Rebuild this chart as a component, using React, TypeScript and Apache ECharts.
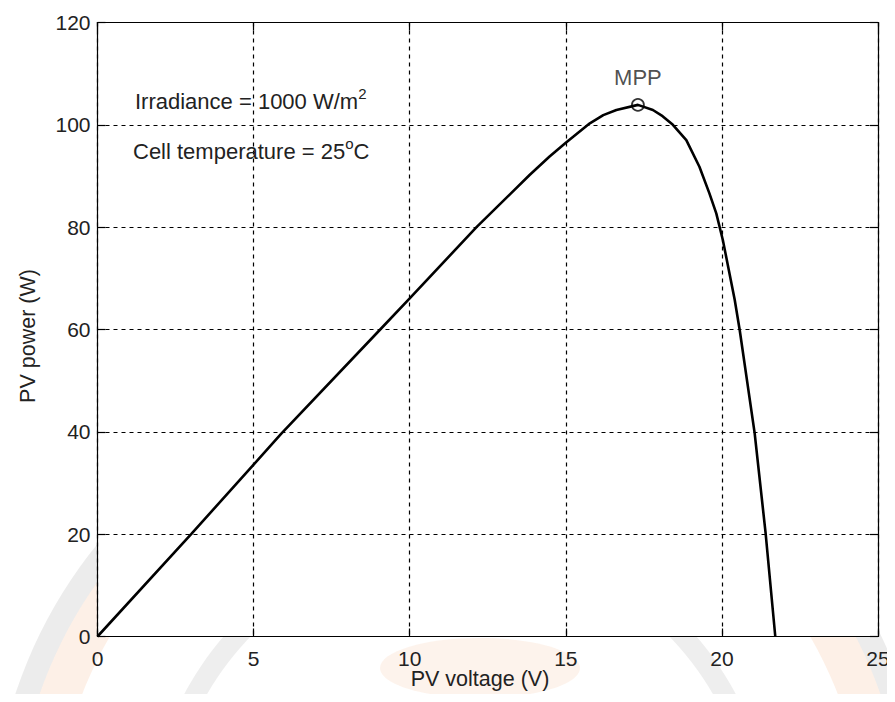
import React, { useEffect, useRef } from "react";
import * as echarts from "echarts";

// PV voltage (V) and PV power (W)
const voltage = [0, 3.0, 5.0, 5.88, 9.04, 10.0, 12.14, 13.84, 14.48, 15.0, 15.77, 16.2, 16.62, 17.31, 17.79, 18.1, 18.43, 18.86, 19.28, 19.6, 19.82, 20.03, 20.41, 20.57, 21.05, 21.4, 21.71];
const power = [0, 20, 33.6, 39.6, 59.9, 66.1, 80, 90.2, 93.8, 96.5, 100.3, 101.9, 102.9, 103.9, 102.9, 101.7, 100, 97.0, 91.8, 86.6, 82.7, 77.5, 65.8, 59.9, 39.7, 20.2, 0];

const mppVoltage = [17.31];
const mppPower = [103.9];

const xTicks = [0, 5, 10, 15, 20, 25];
const yTicks = [0, 20, 40, 60, 80, 100, 120];

const FONT = "'Liberation Sans', Arial, Helvetica, sans-serif";
const TXT = "#222";

export default function App() {
  const ref = useRef<HTMLDivElement>(null);

  useEffect(() => {
    if (!ref.current) return;
    const chart = echarts.init(ref.current, undefined, { renderer: "svg" });

    const curve = voltage.map((v, i) => [v, power[i]]);
    const mpp = mppVoltage.map((v, i) => [v, mppPower[i]]);

    const axisCommon = {
      type: "value" as const,
      z: 3,
      axisLine: { show: true, onZero: false, lineStyle: { color: "#000", width: 1.2 } },
      axisTick: { show: true, inside: true, length: 8, lineStyle: { color: "#000", width: 1.2 } },
    };
    const gridLine = { show: true, lineStyle: { color: "#000", width: 1.2, type: [4, 4] } };

    const option: any = {
      animation: false,
      backgroundColor: "#fff",
      textStyle: { fontFamily: FONT },
      grid: {
        left: 97.5,
        right: 17,
        top: 22.5,
        bottom: 65.5,
        show: true,
        backgroundColor: "#fff",
        borderWidth: 0,
        z: 0,
      },
      xAxis: [
        {
          ...axisCommon,
          position: "bottom",
          min: xTicks[0],
          max: xTicks[xTicks.length - 1],
          interval: 5,
          axisLabel: { color: TXT, fontSize: 21, margin: 11, fontFamily: FONT },
          splitLine: gridLine,
        },
        {
          ...axisCommon,
          position: "top",
          min: xTicks[0],
          max: xTicks[xTicks.length - 1],
          interval: 5,
          axisLabel: { show: false },
          splitLine: { show: false },
        },
      ],
      yAxis: [
        {
          ...axisCommon,
          position: "left",
          min: yTicks[0],
          max: yTicks[yTicks.length - 1],
          interval: 20,
          axisLabel: { color: TXT, fontSize: 21, margin: 7, fontFamily: FONT },
          splitLine: gridLine,
        },
        {
          ...axisCommon,
          position: "right",
          min: yTicks[0],
          max: yTicks[yTicks.length - 1],
          interval: 20,
          axisLabel: { show: false },
          splitLine: { show: false },
        },
      ],
      series: [
        {
          type: "line",
          data: curve,
          showSymbol: false,
          symbol: "none",
          smooth: false,
          lineStyle: { color: "#000", width: 2.6 },
          z: 5,
        },
        {
          type: "scatter",
          data: mpp,
          symbol: "circle",
          symbolSize: 12,
          itemStyle: { color: "rgba(255,255,255,0)", borderColor: "#000", borderWidth: 1.8 },
          label: {
            show: true,
            position: "top",
            distance: 9,
            formatter: "MPP",
            color: TXT,
            fontSize: 22,
            fontFamily: FONT,
          },
          z: 6,
        },
      ],
      graphic: [
        // faint watermark emblem (behind the plot area)
        { type: "ring", z: -10, shape: { cx: 460, cy: 840, r: 468, r0: 445 }, style: { fill: "rgba(170,170,170,0.22)" } },
        { type: "ring", z: -10, shape: { cx: 460, cy: 840, r: 445, r0: 405 }, style: { fill: "rgba(240,140,70,0.13)" } },
        { type: "ring", z: -10, shape: { cx: 460, cy: 840, r: 312, r0: 292 }, style: { fill: "rgba(170,170,170,0.2)" } },
        { type: "ellipse", z: -10, shape: { cx: 480, cy: 668, rx: 100, ry: 30 }, style: { fill: "rgba(240,140,70,0.1)" } },
        // annotations
        {
          type: "text",
          z: 100,
          x: 135,
          y: 86,
          style: {
            text: "{a|Irradiance = 1000 W/m}{s|2}",
            fill: TXT,
            font: `22px ${FONT}`,
            rich: {
              a: { fontSize: 22, lineHeight: 31, fontFamily: FONT, fill: TXT },
              s: { fontSize: 15, lineHeight: 15, verticalAlign: "top", fontFamily: FONT, fill: TXT },
            },
          },
        },
        {
          type: "text",
          z: 100,
          x: 133,
          y: 136,
          style: {
            text: "{a|Cell temperature = 25}{s|o}{a|C}",
            fill: TXT,
            font: `22px ${FONT}`,
            rich: {
              a: { fontSize: 22, lineHeight: 31, fontFamily: FONT, fill: TXT },
              s: { fontSize: 15, lineHeight: 15, verticalAlign: "top", fontFamily: FONT, fill: TXT },
            },
          },
        },
        // axis titles
        {
          type: "text",
          z: 100,
          x: 480,
          y: 679,
          style: {
            text: "PV voltage (V)",
            fill: TXT,
            font: `21.5px ${FONT}`,
            textAlign: "center",
            textVerticalAlign: "middle",
          },
        },
        {
          type: "text",
          z: 100,
          x: 28,
          y: 336,
          rotation: Math.PI / 2,
          style: {
            text: "PV power (W)",
            fill: TXT,
            font: `21.5px ${FONT}`,
            textAlign: "center",
            textVerticalAlign: "middle",
          },
        },
      ],
    };

    chart.setOption(option);
    return () => chart.dispose();
  }, []);

  return <div ref={ref} style={{ width: 895, height: 702, margin: -8 }} />;
}
